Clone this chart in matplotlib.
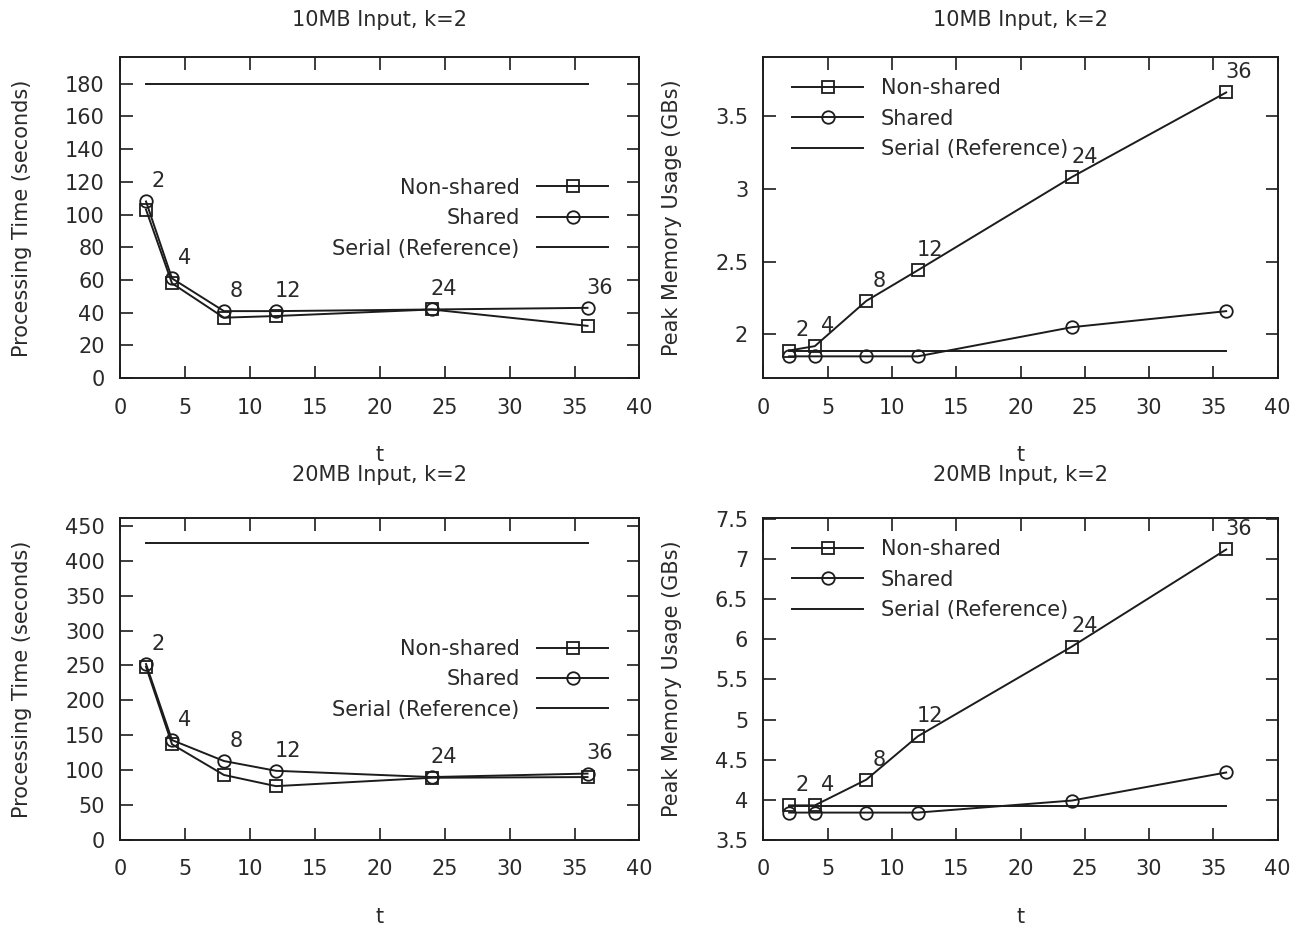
import matplotlib
matplotlib.use("Agg")
import matplotlib.pyplot as plt
from matplotlib.ticker import MultipleLocator, FuncFormatter

FS = 15
plt.rcParams['font.family'] = ['DejaVu Sans']
plt.rcParams['font.size'] = FS

# thread counts
t = [2, 4, 8, 12, 24, 36]

# 10MB input
time10_nonshared = [103, 58, 37, 38, 42, 32]
time10_shared = [108, 61, 41, 41, 42, 43]
time10_serial = 179.5
mem10_nonshared = [1.89, 1.92, 2.23, 2.44, 3.08, 3.66]
mem10_shared = [1.85, 1.85, 1.85, 1.85, 2.05, 2.16]
mem10_serial = 1.886

# 20MB input
time20_nonshared = [248, 137, 93, 77, 89, 90]
time20_shared = [252, 143, 113, 99, 90, 95]
time20_serial = 425.5
mem20_nonshared = [3.93, 3.93, 4.25, 4.79, 5.91, 7.12]
mem20_shared = [3.84, 3.84, 3.84, 3.84, 3.99, 4.34]
mem20_serial = 3.92

INK = '#1c1c1c'
TXT = '#2a2a2a'


def draw_panel(ax, nonshared, shared, serial, ylim, ystep, ylabel, title, legend_left, title_pad):
    ax.plot(t, nonshared, color=INK, lw=1.4, marker='s', ms=9, mfc='none', mec=INK, mew=1.3,
            label='Non-shared')
    ax.plot(t, shared, color=INK, lw=1.4, marker='o', ms=9, mfc='none', mec=INK, mew=1.3,
            label='Shared')
    ax.plot([t[0], t[-1]], [serial, serial], color=INK, lw=1.4, label='Serial (Reference)')

    # thread count labels next to the upper point
    for x, a, b in zip(t, nonshared, shared):
        ax.annotate(str(x), (x, max(a, b)), xytext=(9, 14.5), textcoords='offset points',
                    ha='center', va='center', color=TXT, fontsize=FS)

    ax.set_xlim(0, 40)
    ax.set_ylim(*ylim)
    ax.xaxis.set_major_locator(MultipleLocator(5))
    ax.yaxis.set_major_locator(MultipleLocator(ystep))
    ax.yaxis.set_major_formatter(FuncFormatter(lambda v, p: '%g' % v))
    ax.tick_params(direction='in', length=9, width=1.2, top=True, right=True,
                   colors=INK, labelcolor=TXT, labelsize=FS)
    ax.tick_params(axis='x', pad=14)
    ax.tick_params(axis='y', pad=11)
    for s in ax.spines.values():
        s.set_linewidth(1.4)
        s.set_color(INK)

    ax.set_xlabel('t', color=TXT, labelpad=20)
    ax.set_ylabel(ylabel, color=TXT, labelpad=24)
    ax.set_title(title, color=TXT, pad=title_pad, fontsize=FS)

    if legend_left:
        ax.legend(loc='upper left', bbox_to_anchor=(0.056, 0.935), frameon=False,
                  borderpad=0, borderaxespad=0, handlelength=3.4, handletextpad=0.85,
                  labelspacing=0.5, fontsize=FS, labelcolor=TXT)
    else:
        ax.legend(loc='upper right', bbox_to_anchor=(0.94, 0.625), frameon=False,
                  borderpad=0, borderaxespad=0, handlelength=3.4, handletextpad=0.85,
                  labelspacing=0.5, fontsize=FS, labelcolor=TXT, markerfirst=False)


fig = plt.figure(figsize=(13.05, 9.27), dpi=100)
ax1 = fig.add_axes([0.092, 0.592, 0.398, 0.346])
ax2 = fig.add_axes([0.585, 0.592, 0.394, 0.346])
ax3 = fig.add_axes([0.092, 0.094, 0.398, 0.347])
ax4 = fig.add_axes([0.585, 0.094, 0.394, 0.347])

draw_panel(ax1, time10_nonshared, time10_shared, time10_serial, (0, 196), 20,
           'Processing Time (seconds)', '10MB Input, k=2', False, 23)
draw_panel(ax2, mem10_nonshared, mem10_shared, mem10_serial, (1.7, 3.9), 0.5,
           'Peak Memory Usage (GBs)', '10MB Input, k=2', True, 23)
draw_panel(ax3, time20_nonshared, time20_shared, time20_serial, (0, 461), 50,
           'Processing Time (seconds)', '20MB Input, k=2', False, 27)
draw_panel(ax4, mem20_nonshared, mem20_shared, mem20_serial, (3.5, 7.51), 0.5,
           'Peak Memory Usage (GBs)', '20MB Input, k=2', True, 27)

fig.savefig('out.png', dpi=100)
